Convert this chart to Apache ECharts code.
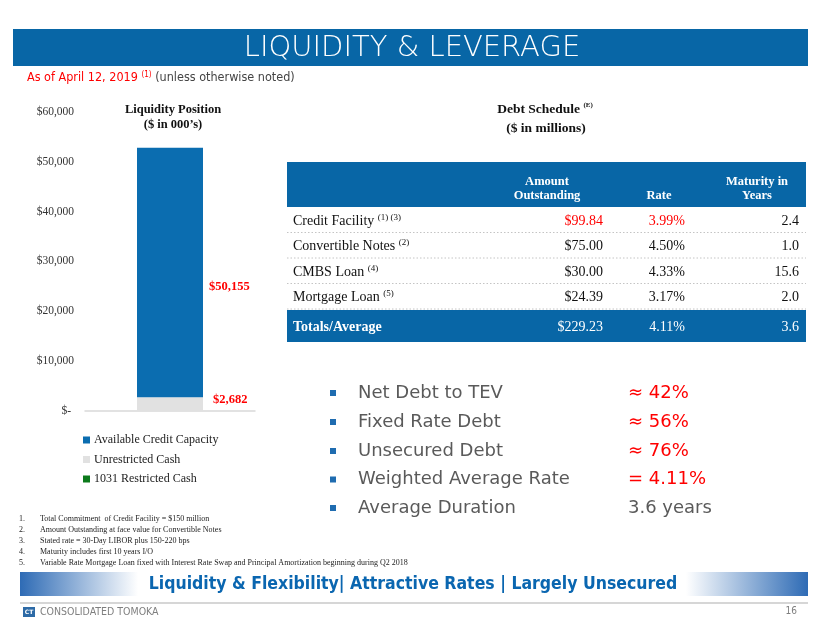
<!DOCTYPE html>
<html><head><meta charset="utf-8">
<script src="https://cdn.jsdelivr.net/npm/echarts@6/dist/echarts.min.js"></script>
<style>html,body{margin:0;padding:0;background:#fff}#c{width:824px;height:637px}</style>
</head><body><div id="c"></div>
<script>
// ---- data ----
const liquidityCategories = ['Liquidity Position'];
const availableCreditCapacity = [50155];
const unrestrictedCash = [2682];
const restrictedCash1031 = [0];
const legendNames = ['Available Credit Capacity', 'Unrestricted Cash', '1031 Restricted Cash'];

const debtNames = ['Credit Facility', 'Convertible Notes', 'CMBS Loan', 'Mortgage Loan'];
const debtNotes = ['(1) (3)', '(2)', '(4)', '(5)'];
const debtAmounts = ['$99.84', '$75.00', '$30.00', '$24.39'];
const debtRates = ['3.99%', '4.50%', '4.33%', '3.17%'];
const debtMaturities = ['2.4', '1.0', '15.6', '2.0'];
const debtTotals = ['Totals/Average', '$229.23', '4.11%', '3.6'];

const metricNames = ['Net Debt to TEV', 'Fixed Rate Debt', 'Unsecured Debt', 'Weighted Average Rate', 'Average Duration'];
const metricValues = ['\u2248 42%', '\u2248 56%', '\u2248 76%', '= 4.11%', '3.6 years'];

const footnotes = [
  'Total Commitment  of Credit Facility = $150 million',
  'Amount Outstanding at face value for Convertible Notes',
  'Stated rate = 30-Day LIBOR plus 150-220 bps',
  'Maturity includes first 10 years I/O',
  'Variable Rate Mortgage Loan fixed with Interest Rate Swap and Principal Amortization beginning during Q2 2018'
];

// ---- styles ----
const SERIF = '"Liberation Serif", "Times New Roman", serif';
const GOTHIC = '"DejaVu Sans", sans-serif';
const GOTHIC_C = '"DejaVu Sans Condensed", "DejaVu Sans", sans-serif';
const BLUE = '#0866a6';
const RED = '#ff0000';

function txt(x, y, text, opt) {
  return { type: 'text', x: x, y: y, silent: true, z: 10,
    style: Object.assign({ text: text, fill: '#222', fontSize: 14, fontFamily: SERIF,
      textAlign: 'left', textVerticalAlign: 'middle' }, opt || {}) };
}
function rect(x, y, w, h, fill, opt) {
  return Object.assign({ type: 'rect', silent: true, z: 5, shape: { x: x, y: y, width: w, height: h }, style: { fill: fill } }, opt || {});
}
function line(x1, y1, x2, y2, stroke, opt) {
  return { type: 'line', silent: true, z: 6, shape: { x1: x1, y1: y1, x2: x2, y2: y2 },
    style: Object.assign({ stroke: stroke, lineWidth: 1 }, opt || {}) };
}

const g = [];
// header banner
g.push(rect(13, 29, 795, 37, BLUE));
g.push(txt(412, 48, 'LIQUIDITY & LEVERAGE', { fill: '#fff', fontSize: 29, fontFamily: GOTHIC, fontWeight: 200, textAlign: 'center' }));
// as-of line
g.push({ type: 'text', x: 27, y: 78, silent: true, style: {
  text: '{r|As of April 12, 2019 }{s|(1)}{g| (unless otherwise noted)}',
  textVerticalAlign: 'middle', textAlign: 'left',
  rich: {
    r: { fill: RED, fontSize: 12.5, fontFamily: GOTHIC_C, lineHeight: 15 },
    s: { fill: RED, fontSize: 8, fontFamily: GOTHIC_C, verticalAlign: 'top', lineHeight: 9 },
    g: { fill: '#444', fontSize: 12.5, fontFamily: GOTHIC_C, lineHeight: 15 }
  } } });

// debt schedule title
g.push({ type: 'text', x: 545, y: 110, silent: true, style: {
  text: '{b|Debt Schedule }{s|(E)}', textAlign: 'center', textVerticalAlign: 'middle',
  rich: { b: { fontSize: 13.5, fontWeight: 'bold', fontFamily: SERIF, fill: '#111', lineHeight: 16 },
          s: { fontSize: 7, fontWeight: 'bold', fontFamily: SERIF, fill: '#111', verticalAlign: 'top', lineHeight: 8 } } } });
g.push(txt(546, 129, '($ in millions)', { fontSize: 13.5, fontWeight: 'bold', fill: '#111', textAlign: 'center' }));

// table
const TX = 287, TW = 519;
const colAmt = 603, colRate = 685, colMat = 799;
g.push(rect(TX, 162, TW, 45, BLUE));
const hdr = { fill: '#fff', fontSize: 12.5, fontWeight: 'bold', textAlign: 'center', lineHeight: 14 };
g.push(txt(547, 189, 'Amount\nOutstanding', hdr));
g.push(txt(659, 196, 'Rate', hdr));
g.push(txt(757, 189, 'Maturity in\nYears', hdr));
const rowY = [221, 246.5, 272, 297];
debtNames.forEach(function (n, i) {
  const y = rowY[i];
  g.push({ type: 'text', x: 293, y: y, silent: true, style: {
    text: '{n|' + n + ' }{s|' + debtNotes[i] + '}', textAlign: 'left', textVerticalAlign: 'middle',
    rich: { n: { fontSize: 14, fontFamily: SERIF, fill: '#111', lineHeight: 16 },
            s: { fontSize: 9, fontFamily: SERIF, fill: '#111', verticalAlign: 'top', lineHeight: 10 } } } });
  const c = i === 0 ? RED : '#111';
  g.push(txt(colAmt, y, debtAmounts[i], { fill: c, textAlign: 'right' }));
  g.push(txt(colRate, y, debtRates[i], { fill: c, textAlign: 'right' }));
  g.push(txt(colMat, y, debtMaturities[i], { fill: '#111', textAlign: 'right' }));
  if (i < debtNames.length - 1) {
    g.push(line(TX, y + 11.5, TX + TW, y + 11.5, '#c4c4c4', { lineDash: [1.5, 2] }));
  }
});
g.push(line(TX, 309, TX + TW, 309, '#c4c4c4', { lineDash: [1.5, 2] }));
g.push(rect(TX, 310, TW, 32, BLUE));
g.push(txt(293, 327, debtTotals[0], { fill: '#fff', fontWeight: 'bold' }));
g.push(txt(colAmt, 327, debtTotals[1], { fill: '#fff', textAlign: 'right' }));
g.push(txt(colRate, 327, debtTotals[2], { fill: '#fff', textAlign: 'right' }));
g.push(txt(colMat, 327, debtTotals[3], { fill: '#fff', textAlign: 'right' }));

// metrics bullets
const mY = [393, 422, 451, 479.5, 508];
metricNames.forEach(function (n, i) {
  g.push(rect(330, mY[i] - 3, 6, 6, '#1f6cb0'));
  g.push(txt(358, mY[i], n, { fill: '#5a5a5a', fontSize: 18, fontFamily: GOTHIC, fontWeight: 'normal' }));
  g.push(txt(628, mY[i], metricValues[i], { fill: i < 4 ? RED : '#5a5a5a', fontSize: 18, fontFamily: GOTHIC, fontWeight: 'normal' }));
});

// footnotes
footnotes.forEach(function (f, i) {
  const y = 519 + i * 11;
  g.push(txt(19, y, (i + 1) + '.', { fontSize: 8, fill: '#222' }));
  g.push(txt(40, y, f, { fontSize: 8, fill: '#222' }));
});

// bottom banner
g.push(rect(20, 572, 788, 24, {
  type: 'linear', x: 0, y: 0, x2: 1, y2: 0,
  colorStops: [{ offset: 0, color: '#2e6bb5' }, { offset: 0.15, color: '#ffffff' },
               { offset: 0.845, color: '#ffffff' }, { offset: 1, color: '#2e6bb5' }] }));
g.push(txt(413, 584, 'Liquidity & Flexibility| Attractive Rates | Largely Unsecured',
  { fill: '#0a66b0', fontSize: 17.5, fontFamily: GOTHIC_C, fontWeight: 'bold', textAlign: 'center' }));
g.push(line(20, 603, 808, 603, '#c8c8c8', { lineWidth: 1.5 }));
g.push(rect(23, 607, 12, 10, '#2d6aa6'));
g.push(txt(29, 612, 'CT', { fill: '#fff', fontSize: 6, fontFamily: GOTHIC, fontWeight: 'bold', textAlign: 'center' }));
g.push(txt(40, 612, 'CONSOLIDATED TOMOKA', { fill: '#7f7f7f', fontSize: 10.5, fontFamily: GOTHIC_C }));
g.push(txt(797, 611, '16', { fill: '#7f7f7f', fontSize: 10, fontFamily: GOTHIC_C, textAlign: 'right' }));

function money(v) { return '$' + Number(v).toLocaleString('en-US'); }

const chart = echarts.init(document.getElementById('c'), null, { renderer: 'canvas' });
chart.setOption({
  animation: false,
  backgroundColor: '#fff',
  title: {
    text: 'Liquidity Position\n($ in 000\u2019s)', left: 168, top: 97, textAlign: 'center',
    textStyle: { fontFamily: SERIF, fontSize: 12.5, fontWeight: 'bold', color: '#111', lineHeight: 15 }
  },
  legend: {
    data: legendNames, orient: 'vertical', left: 78, top: 429, itemWidth: 7, itemHeight: 7, itemGap: 7.5,
    icon: 'rect', textStyle: { fontFamily: SERIF, fontSize: 12, color: '#222', padding: [0, 0, 0, -1] }
  },
  grid: { left: 85, width: 170, top: 112, bottom: 226.3, containLabel: false },
  xAxis: {
    type: 'category', data: liquidityCategories,
    axisLine: { lineStyle: { color: '#d9d9d9', width: 1.5 } }, axisTick: { show: false }, axisLabel: { show: false }
  },
  yAxis: {
    type: 'value', min: 0, max: 60000, interval: 10000,
    axisLine: { show: false }, axisTick: { show: false }, splitLine: { show: false },
    axisLabel: { margin: 11, fontFamily: SERIF, fontSize: 11.5, color: '#333',
      formatter: function (v) { return v === 0 ? '$- ' : money(v); } }
  },
  series: [
    { name: '1031 Restricted Cash', type: 'bar', stack: 'liq', barWidth: 66, data: restrictedCash1031,
      itemStyle: { color: '#0c7a1c' } },
    { name: 'Unrestricted Cash', type: 'bar', stack: 'liq', barWidth: 66, data: unrestrictedCash,
      itemStyle: { color: '#e1e1e1' },
      label: { show: true, position: 'right', distance: 10, offset: [0, -4], color: RED,
        fontFamily: SERIF, fontWeight: 'bold', fontSize: 12.5, formatter: function (p) { return money(p.value); } } },
    { name: 'Available Credit Capacity', type: 'bar', stack: 'liq', barWidth: 66, data: availableCreditCapacity,
      itemStyle: { color: '#0b6db0' },
      label: { show: true, position: 'right', distance: 6, offset: [0, 14], color: RED,
        fontFamily: SERIF, fontWeight: 'bold', fontSize: 12.5, formatter: function (p) { return money(p.value); } } }
  ],
  graphic: g
});
</script>
</body></html>
